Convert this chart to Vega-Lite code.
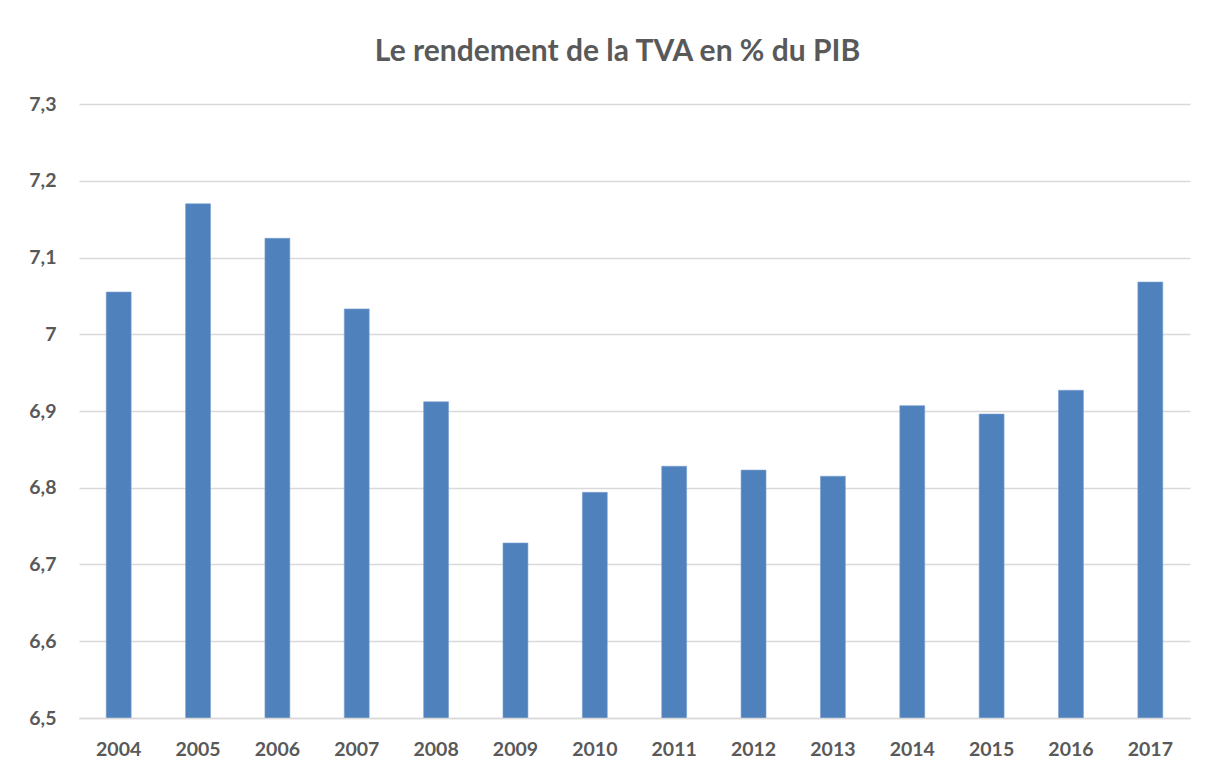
{
  "$schema": "https://vega.github.io/schema/vega-lite/v6.json",
  "autosize": "none",
  "width": 1111,
  "height": 614,
  "padding": {"left": 79, "top": 104, "right": 18, "bottom": 55},
  "background": "white",
  "title": {
    "text": "Le rendement de la TVA en % du PIB",
    "font": "Lato",
    "fontSize": 30,
    "fontWeight": "bold",
    "color": "#595959",
    "anchor": "middle",
    "dx": -17,
    "offset": 27
  },
  "data": {
    "values": [
      {"annee": "2004", "valeur": 7.055},
      {"annee": "2005", "valeur": 7.170},
      {"annee": "2006", "valeur": 7.125},
      {"annee": "2007", "valeur": 7.033},
      {"annee": "2008", "valeur": 6.912},
      {"annee": "2009", "valeur": 6.728},
      {"annee": "2010", "valeur": 6.794},
      {"annee": "2011", "valeur": 6.828},
      {"annee": "2012", "valeur": 6.823},
      {"annee": "2013", "valeur": 6.815},
      {"annee": "2014", "valeur": 6.907},
      {"annee": "2015", "valeur": 6.896},
      {"annee": "2016", "valeur": 6.927},
      {"annee": "2017", "valeur": 7.068}
    ]
  },
  "mark": {"type": "bar", "color": "#4f81bd", "stroke": "#7a9fd0", "strokeWidth": 0.6, "clip": true},
  "encoding": {
    "x": {
      "field": "annee",
      "type": "ordinal",
      "scale": {"paddingInner": 0.686, "paddingOuter": 0.343},
      "axis": {
        "title": null,
        "labelAngle": 0,
        "labelFont": "Lato",
        "labelFontSize": 19.5,
        "labelFontWeight": "bold",
        "labelColor": "#595959",
        "labelPadding": 22,
        "ticks": false,
        "domainColor": "#d9d9d9",
        "domainWidth": 1.5,
        "grid": false,
        "zindex": 1
      }
    },
    "y": {
      "field": "valeur",
      "type": "quantitative",
      "scale": {"domain": [6.5, 7.3], "zero": false, "nice": false},
      "axis": {
        "title": null,
        "values": [6.5, 6.6, 6.7, 6.8, 6.9, 7.0, 7.1, 7.2, 7.3],
        "labelExpr": "replace(format(datum.value, '.1~f'), '.', ',')",
        "labelFont": "Lato",
        "labelFontSize": 19.5,
        "labelFontWeight": "bold",
        "labelColor": "#595959",
        "labelPadding": 23,
        "ticks": false,
        "domain": false,
        "grid": true,
        "gridColor": "#d9d9d9",
        "gridWidth": 1.5
      }
    }
  },
  "config": {"view": {"stroke": null}}
}
